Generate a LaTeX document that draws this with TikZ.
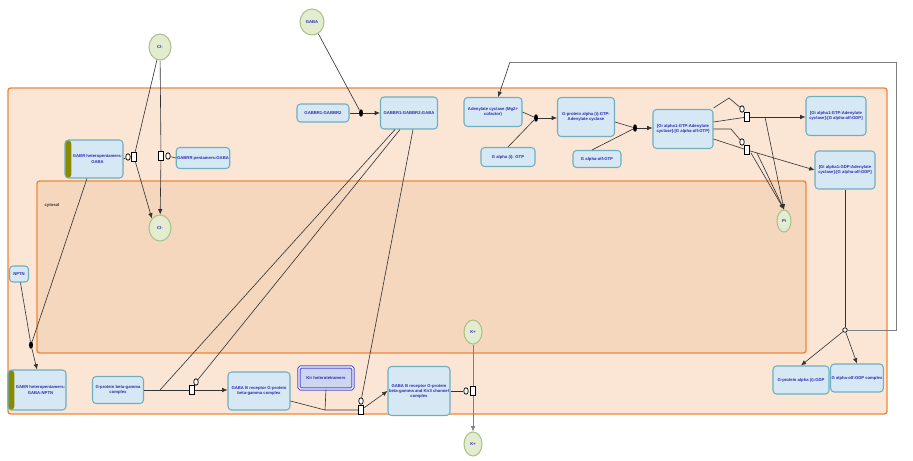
\documentclass[tikz,border=0pt]{standalone}
\usepackage{fontspec}
\setmainfont{Liberation Sans}
\usepackage{xcolor}
\usepackage{tikz}
\usetikzlibrary{positioning, arrows.meta, shapes.geometric, calc}
\definecolor{cellFill}{RGB}{251, 230, 214}
\definecolor{cytoFill}{RGB}{245, 215, 189}
\definecolor{compOrange}{RGB}{240, 135, 58}
\definecolor{entFill}{RGB}{213, 232, 244}
\definecolor{entBorder}{RGB}{110, 175, 192}
\definecolor{smFill}{RGB}{227, 236, 207}
\definecolor{smBorder}{RGB}{169, 194, 140}
\definecolor{txtBlue}{RGB}{43, 43, 176}
\definecolor{barOlive}{RGB}{138, 138, 0}
\definecolor{kirBlue}{RGB}{80, 80, 210}
\definecolor{kirFill}{RGB}{205, 214, 240}
\definecolor{loopGray}{RGB}{128, 128, 128}
\newcommand{\pwfont}{\fontsize{2.4}{2.9}\selectfont\bfseries}

\begin{document}
\begin{tikzpicture}[
                x=0.02cm, y=-0.02cm,
                entity/.style={rectangle, rounded corners=2pt, draw=entBorder, fill=entFill, line width=0.6pt, font=\pwfont, text=txtBlue, align=center, inner sep=0.5pt},
                membrane/.style={entity, path picture={\fill[barOlive] (path picture bounding box.south west) rectangle ([xshift=3.6pt]path picture bounding box.north west);}},
                kirbox/.style={entity, rounded corners=1pt, draw=kirBlue, double=white, double distance=0.7pt, line width=0.6pt, fill=kirFill},
                smol/.style={ellipse, draw=smBorder, fill=smFill, line width=0.6pt, font=\pwfont, text=txtBlue, inner sep=0pt},
                procbox/.style={rectangle, draw=black, fill=white, line width=0.4pt, minimum width=0.11cm, minimum height=0.17cm, inner sep=0pt},
                catal/.style={ellipse, draw=black, fill=white, line width=0.4pt, minimum width=0.09cm, minimum height=0.13cm, inner sep=0pt},
                bindot/.style={ellipse, fill=black, minimum width=0.08cm, minimum height=0.15cm, inner sep=0pt},
                compartment/.style={rectangle, draw=compOrange, line width=0.8pt, rounded corners=1.5pt},
                link/.style={draw=black!80, line width=0.35pt},
                arrow/.style={link, -{Latex[length=3pt,width=2.6pt]}},
                loopline/.style={draw=loopGray, line width=0.5pt}
            ]

                \useasboundingbox (0,0) rectangle (913,460);

                % --- COMPARTMENTS ---
                \draw[compartment, fill=cellFill] (8,88) rectangle (887,414);
                \draw[compartment, fill=cytoFill] (37,181) rectangle (806,353);
                \node[font=\pwfont, text=black!80] (cytosol) at (52,205) {cytosol};

                % --- SMALL MOLECULES ---
                \node[smol, minimum width=0.44cm, minimum height=0.52cm] (clTop) at (160,47) {Cl-};
                \node[smol, minimum width=0.44cm, minimum height=0.52cm] (clBot) at (160,228) {Cl-};
                \node[smol, minimum width=0.48cm, minimum height=0.52cm] (gaba) at (312,22) {GABA};
                \node[smol, minimum width=0.28cm, minimum height=0.44cm] (pi) at (784,221) {Pi};
                \node[smol, minimum width=0.36cm, minimum height=0.48cm] (kTop) at (473,332) {K+};
                \node[smol, minimum width=0.36cm, minimum height=0.48cm] (kBot) at (473,444) {K+};

                % --- CHLORIDE CHANNELS ---
                \node[membrane, minimum width=1.04cm, minimum height=0.76cm] (gabrHet) at (94,159) {\hspace{4pt}GABR heteropentamers:\\\hspace{4pt}GABA};
                \node[entity, minimum width=1.06cm, minimum height=0.42cm] (gabrrPent) at (203,158) {GABRR pentamers:GABA};
                \node[procbox] (clSqA) at (134,157) {};
                \node[catal] (clCatA) at (128,157) {};
                \node[procbox] (clSqB) at (161,156) {};
                \node[catal] (clCatB) at (168,156) {};

                \draw[link] (gabrHet.east) -- (clCatA);
                \draw[link] (gabrrPent.west) -- (clCatB);
                \draw[link] (clTop) -- (clSqA);
                \draw[arrow] (clSqA) -- (clBot.north west);
                \draw[link] (clTop) -- (clSqB);
                \draw[arrow] (clSqB) -- (clBot);

                % --- NPTN BINDING ---
                \node[entity, minimum width=0.38cm, minimum height=0.32cm] (nptn) at (19,274) {NPTN};
                \node[membrane, minimum width=1.04cm, minimum height=0.8cm] (gabrNptn) at (37,390) {\hspace{4pt}GABR heteropentamers:\\\hspace{4pt}GABA:NPTN};
                \node[bindot] (npDot) at (31,345) {};

                \draw[link] (nptn) -- (npDot);
                \draw[link] (gabrHet.south) ++(-7,0) -- (npDot);
                \draw[arrow] (npDot) -- (gabrNptn.north);

                % --- GABA B RECEPTOR ---
                \node[entity, minimum width=1.04cm, minimum height=0.36cm] (gabbr12) at (323,113) {GABBR1:GABBR2};
                \node[entity, minimum width=1.14cm, minimum height=0.64cm] (gabbrGaba) at (409,113) {GABBR1:GABBR2:GABA};
                \node[bindot] (bindDot) at (361,113) {};

                \draw[link] (gaba) -- (bindDot);
                \draw[link] (gabbr12) -- (bindDot);
                \draw[arrow] (bindDot) -- (gabbrGaba);

                % --- ADENYLATE CYCLASE ---
                \node[entity, minimum width=1.16cm, minimum height=0.58cm] (adcy) at (493,112) {Adenylate cyclase (Mg2+\\cofactor)};
                \node[entity, minimum width=1.08cm, minimum height=0.38cm] (gaiGtp) at (508,157) {G alpha (i): GTP};
                \node[entity, minimum width=1.14cm, minimum height=0.78cm] (gaiAdcy) at (586,117) {G-protein alpha (i):GTP:\\Adenylate cyclase};
                \node[entity, minimum width=0.96cm, minimum height=0.34cm] (golfGtp) at (597,159) {G alpha-olf:GTP};
                \node[bindot] (adDot) at (536,118) {};
                \node[bindot] (gaDot) at (635,128) {};

                \draw[link] (adcy.east) -- (adDot);
                \draw[link] (gaiGtp.north) -- (adDot);
                \draw[arrow] (adDot) -- (gaiAdcy.west |- adDot);
                \draw[link] (gaiAdcy.east) ++(0,5) -- (gaDot);
                \draw[link] (golfGtp.north) ++(-5,0) -- (gaDot);

                % --- GTP HYDROLYSIS ---
                \node[entity, minimum width=1.2cm, minimum height=0.78cm] (cxGtpGtp) at (683,129) {[Gi alpha1:GTP:Adenylate\\cyclase]:[G alpha-olf:GTP]};
                \node[entity, minimum width=1.2cm, minimum height=0.78cm] (cxGtpGdp) at (836,116) {[Gi alpha1:GTP:Adenylate\\cyclase]:[G alpha-olf:GDP]};
                \node[entity, minimum width=1.2cm, minimum height=0.76cm] (cxGdpGdp) at (845,170) {[Gi alpha1:GDP:Adenylate\\cyclase]:[G alpha-olf:GDP]};
                \draw[arrow] (gaDot) -- (cxGtpGtp.west |- gaDot);

                \node[procbox] (hydSqA) at (747,117) {};
                \node[catal] (hydCatA) at (742,109) {};
                \node[procbox] (hydSqB) at (747,150) {};
                \node[catal] (hydCatB) at (742,142) {};

                \draw[link] (cxGtpGtp.east) ++(0,-21) -- (729,98) -- (hydCatA);
                \draw[link] (cxGtpGtp.east) ++(0,-7) -- (hydSqA);
                \draw[link] (cxGtpGtp.east) ++(0,0) -- (731,129) -- (hydCatB);
                \draw[link] (cxGtpGtp.east) ++(0,10) -- (hydSqB);
                \draw[arrow] (hydSqA) -- (cxGtpGdp.west |- hydSqA);
                \draw[arrow] (hydSqB) -- (cxGdpGdp.west);
                \draw[arrow] (hydSqA) ++(18,0) -- (pi.north);
                \draw[arrow] (hydSqB) ++(4,3) -- (pi.north);
                \draw[arrow] (hydSqB) ++(10,3) -- (pi.north);

                % --- DISSOCIATION AND FEEDBACK ---
                \node[catal, minimum width=0.09cm, minimum height=0.09cm] (dissoc) at (845,330) {};
                \node[entity, minimum width=1.12cm, minimum height=0.56cm] (gaiGdp) at (801,380) {G-protein alpha (i):GDP};
                \node[entity, minimum width=1.02cm, minimum height=0.56cm] (golfGdp) at (857,378) {G alpha-olf:GDP complex};
                \coordinate (loopA) at (896,330);
                \coordinate (loopB) at (896,62);
                \coordinate (loopC) at (510,62);

                \draw[link] (cxGdpGdp.south) -- (dissoc);
                \draw[arrow] (dissoc) -- (gaiGdp.north);
                \draw[arrow] (dissoc) -- (golfGdp.north);
                \draw[loopline] (dissoc) -- (loopA) -- (loopB) -- (loopC);
                \draw[arrow] (loopC) -- (adcy.71);

                % --- G-PROTEIN BETA-GAMMA AND KIR ---
                \node[entity, minimum width=1.02cm, minimum height=0.54cm] (gbg) at (118,390) {G-protein beta-gamma\\complex};
                \node[entity, minimum width=1.24cm, minimum height=0.76cm] (gabbBg) at (259,391) {GABA B receptor G-protein\\beta-gamma complex};
                \node[kirbox, minimum width=1.08cm, minimum height=0.44cm] (kir) at (326,378) {Kir heterotetramers};
                \node[entity, minimum width=1.24cm, minimum height=0.98cm] (gabbKir) at (419,391) {GABA B receptor G-protein\\beta-gamma and Kir3 channel\\complex};

                \node[procbox] (bgSq) at (192,390) {};
                \node[catal] (bgCat) at (196,382) {};
                \coordinate (bgJoin) at (160,390);
                \draw[link] (gbg.east) -- (bgSq);
                \draw[arrow] (bgSq) -- (gabbBg.west |- bgSq);
                \draw[link] (gabbrGaba.south) ++(-14,0) -- (bgJoin);
                \draw[link] (gabbrGaba.south) ++(-9,0) -- (bgCat);

                \node[procbox] (kirSq) at (361,410) {};
                \node[catal] (kirCat) at (361,401) {};
                \coordinate (kirJoin) at (325,410);
                \draw[link] (gabbBg.east) ++(0,10) -- (kirJoin) -- (kirSq);
                \draw[link] (kir.south) -- (kirJoin);
                \draw[arrow] (kirSq) -- (gabbKir.west);
                \draw[link] (gabbrGaba.south) ++(4,0) -- (kirCat);

                % --- POTASSIUM EFFLUX ---
                \node[procbox] (kSq) at (473,391) {};
                \node[catal] (kCat) at (466,391) {};
                \draw[link] (gabbKir.east) -- (kCat);
                \draw[loopline] (kTop) -- (kSq);
                \draw[arrow, draw=loopGray] (kSq) -- (kBot);

                \end{tikzpicture}
\end{document}
